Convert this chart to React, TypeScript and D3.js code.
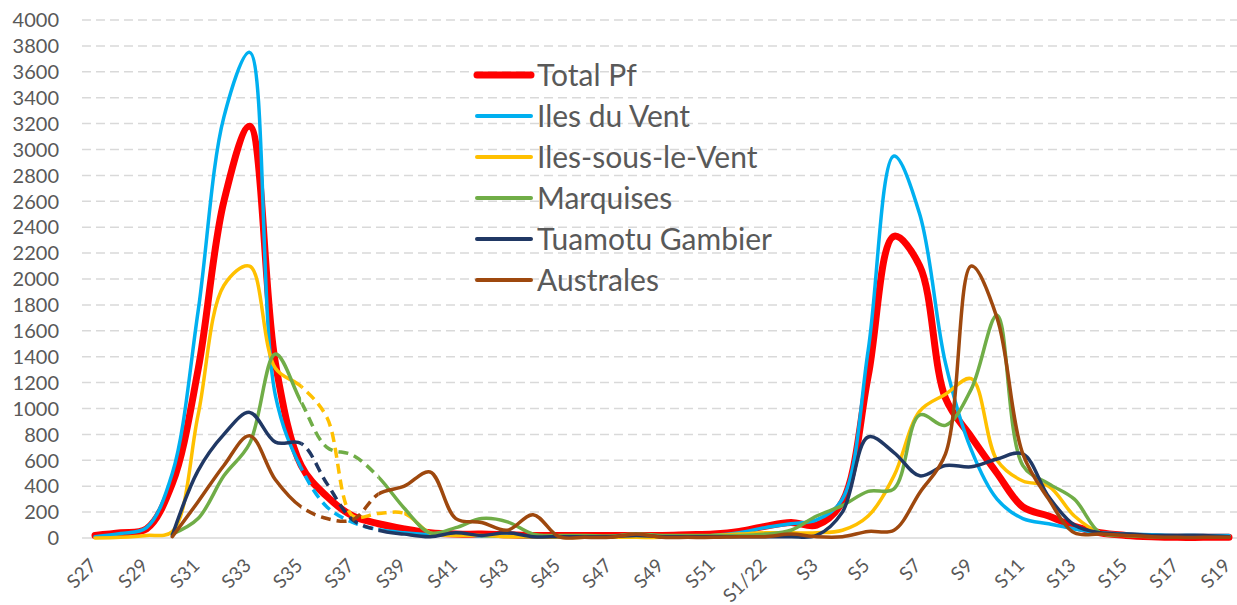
import React from 'react';
import * as d3 from 'd3';

// weeks S27/2021 .. S19/2022
const weeks = [
  'S27', 'S28', 'S29', 'S30', 'S31', 'S32', 'S33', 'S34', 'S35', 'S36', 'S37', 'S38', 'S39', 'S40',
  'S41', 'S42', 'S43', 'S44', 'S45', 'S46', 'S47', 'S48', 'S49', 'S50', 'S51', 'S52',
  'S1/22', 'S2', 'S3', 'S4', 'S5', 'S6', 'S7', 'S8', 'S9', 'S10', 'S11', 'S12', 'S13', 'S14',
  'S15', 'S16', 'S17', 'S18', 'S19',
];
const tickWeeks = weeks.filter((_, i) => i % 2 === 0);

const totalPf = [20, 40, 70, 420, 1300, 2600, 3180, 1350, 560, 320, 170, 110, 70, 40, 30, 30, 25, 20, 20, 20, 20, 20, 20, 25, 30, 50, 90, 120, 100, 280, 1250, 2330, 2100, 1080, 780, 500, 240, 170, 90, 40, 20, 10, 5, 5, 5];
const ilesDuVent = [10, 35, 80, 500, 1750, 3250, 3750, 1100, 540, 240, 120, 65, 40, 25, 30, 15, 15, 10, 10, 10, 10, 10, 10, 15, 20, 40, 80, 110, 140, 300, 1450, 2950, 2500, 1350, 680, 300, 150, 110, 70, 40, 30, 25, 20, 20, 20];
const ilesSousLeVent = [0, 5, 20, 50, 950, 1950, 2100, 1310, 1170, 930, 170, 190, 190, 40, 20, 20, 10, 10, 5, 5, 5, 5, 5, 10, 20, 30, 40, 40, 40, 60, 170, 480, 980, 1110, 1230, 600, 440, 400, 170, 40, 20, 15, 10, 10, 10];
const marquises = [null, null, null, 30, 150, 480, 730, 1420, 1050, 700, 640, 470, 230, 40, 80, 150, 125, 30, 20, 20, 15, 30, 20, 20, 20, 20, 30, 60, 170, 250, 360, 380, 950, 870, 1150, 1720, 560, 420, 300, 40, 20, 10, 10, 10, 10];
const tuamotuGambier = [null, null, null, 20, 520, 800, 970, 740, 730, 420, 140, 60, 30, 10, 40, 20, 40, 10, 10, 10, 10, 20, 10, 10, 10, 10, 10, 10, 20, 200, 780, 660, 480, 560, 550, 610, 650, 320, 100, 40, 30, 20, 20, 20, 10];
const australes = [null, null, null, 10, 280, 560, 790, 450, 240, 150, 140, 340, 400, 510, 150, 120, 60, 180, 10, 5, 5, 30, 5, 5, 5, 10, 10, 30, 10, 10, 50, 60, 350, 650, 2100, 1700, 650, 300, 40, 30, 20, 10, 5, 5, 5];

const series = [
  { name: 'Total Pf', values: totalPf, color: '#FF0000', width: 7, dashed: null },
  { name: 'Iles du Vent', values: ilesDuVent, color: '#00B0F0', width: 3.5, dashed: ['S35', 'S38'] },
  { name: 'Iles-sous-le-Vent', values: ilesSousLeVent, color: '#FFC000', width: 3.5, dashed: ['S35', 'S39'] },
  { name: 'Marquises', values: marquises, color: '#70AD47', width: 3.5, dashed: ['S35', 'S38'] },
  { name: 'Tuamotu Gambier', values: tuamotuGambier, color: '#203864', width: 3.5, dashed: ['S35', 'S38'] },
  { name: 'Australes', values: australes, color: '#9E480E', width: 3.5, dashed: ['S35', 'S38'] },
];

const W = 1237;
const H = 605;
const font = 'Lato, "Open Sans", sans-serif';

export default function App() {
  const x = d3.scalePoint<string>().domain(weeks).range([95, 1229]);
  const y = d3.scaleLinear().domain([0, 4000]).range([538, 20]);
  const line = d3
    .line<number | null>()
    .defined((d) => d != null)
    .x((_, i) => x(weeks[i]) as number)
    .y((d) => y(d as number))
    .curve(d3.curveCatmullRom.alpha(0.5));

  return (
    <svg width={W} height={H} style={{ position: 'absolute', left: 0, top: 0, background: '#fff' }}>
      <defs>
        {series.map((s, i) =>
          s.dashed ? (
            <React.Fragment key={i}>
              <clipPath id={`dash${i}`}>
                <rect x={x(s.dashed[0])} y={0} width={(x(s.dashed[1]) as number) - (x(s.dashed[0]) as number)} height={H} />
              </clipPath>
              <clipPath id={`solid${i}`}>
                <rect x={0} y={0} width={x(s.dashed[0])} height={H} />
                <rect x={x(s.dashed[1])} y={0} width={W} height={H} />
              </clipPath>
            </React.Fragment>
          ) : null
        )}
      </defs>

      {/* grid */}
      {y.ticks(20).map((t) => (
        <g key={t}>
          <line
            x1={82}
            x2={W}
            y1={y(t)}
            y2={y(t)}
            stroke="#D9D9D9"
            strokeWidth={1.5}
            strokeDasharray={t === 0 ? undefined : '9 5'}
          />
          <text x={59} y={y(t)} dy="0.36em" textAnchor="end" fontFamily={font} fontSize={20} fill="#595959">
            {t}
          </text>
        </g>
      ))}

      {/* x labels */}
      {tickWeeks.map((w) => (
        <text
          key={w}
          transform={`translate(${(x(w) as number) - 7},557) rotate(-45)`}
          dy="0.72em"
          textAnchor="end"
          fontFamily={font}
          fontSize={19}
          fill="#595959"
        >
          {w}
        </text>
      ))}

      {/* series */}
      {series.map((s, i) => {
        const d = line(s.values) || '';
        if (!s.dashed) {
          return <path key={i} d={d} fill="none" stroke={s.color} strokeWidth={s.width} strokeLinejoin="round" strokeLinecap="round" />;
        }
        return (
          <g key={i}>
            <path d={d} fill="none" stroke={s.color} strokeWidth={s.width} strokeLinejoin="round" strokeLinecap="round" clipPath={`url(#solid${i})`} />
            <path d={d} fill="none" stroke={s.color} strokeWidth={s.width} strokeDasharray="10 6" clipPath={`url(#dash${i})`} />
          </g>
        );
      })}

      {/* legend */}
      {series.map((s, i) => (
        <g key={s.name} transform={`translate(0,${75 + i * 41})`}>
          <line x1={477} x2={531} y1={0} y2={0} stroke={s.color} strokeWidth={i === 0 ? 7 : 4} strokeLinecap="round" />
          <text x={537} y={0} dy="0.36em" fontFamily={font} fontSize={30} fill="#595959">
            {s.name}
          </text>
        </g>
      ))}
    </svg>
  );
}
